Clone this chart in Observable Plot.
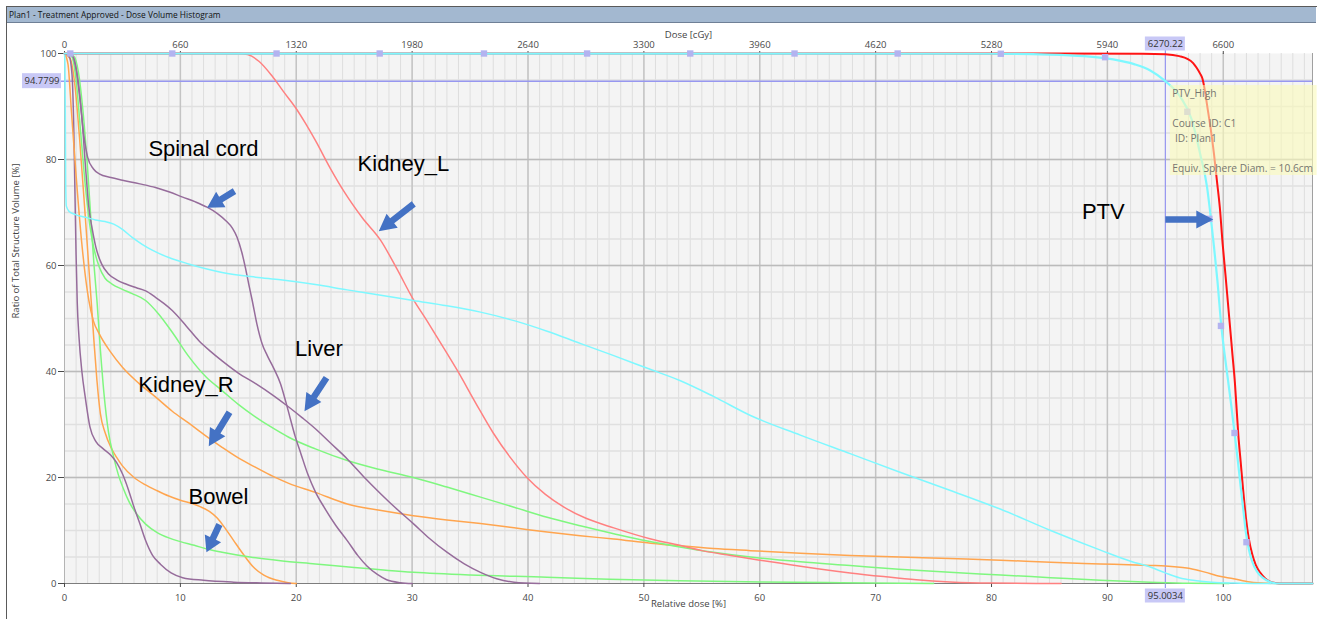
<!DOCTYPE html>
<html><head><meta charset="utf-8">
<script src="https://cdn.jsdelivr.net/npm/d3@7"></script>
<script src="https://cdn.jsdelivr.net/npm/@observablehq/plot@0.6"></script>
<style>
body{margin:0;background:#fff;width:1321px;height:619px;overflow:hidden;position:relative;font-family:'Open Sans',sans-serif;}
#frame{position:absolute;left:6px;top:6px;width:1311px;height:613px;border-left:1px solid #5a5a5a;border-top:1px solid #5a5a5a;box-sizing:border-box;}
#titlebar{position:absolute;left:7px;top:7px;width:1309px;height:16px;background:#a3b8d0;border-bottom:1px solid #6f8096;font-size:8.4px;line-height:15px;color:#111;padding-left:2px;box-sizing:border-box;white-space:nowrap;}
#chart{position:absolute;left:0;top:22px;}
</style></head><body>
<div id="frame"></div>
<div id="titlebar">Plan1 - Treatment Approved - Dose Volume Histogram</div>
<div id="chart"></div>
<script>
// ---------- data (dose in % of prescription, volume in %) ----------
const DOSE_PER_PCT = 66;            // 6600 cGy = 100 %
const xTicks = [0,10,20,30,40,50,60,70,80,90,100];
const yTicks = [0,20,40,60,80,100];

const purpleLow = [[0,100],[0.4,99.5],[0.65,96],[0.8,86],[0.9,74],[1.0,62],[1.1,53],[1.25,46.5],[1.5,40],[1.8,35],[2.2,29.5],[2.7,26.8],[3.3,25.5],[4.0,24.2],[4.5,22.8],[5.0,20.7],[5.5,17.8],[6.0,14.4],[6.5,11.3],[7.0,8.1],[7.6,5.3],[8.3,3.6],[9.2,2.0],[10.2,1.1],[12,0.6],[14.6,0.25],[17,0.1],[19.5,0]];
const spinalCord = [[0,100],[0.6,99.8],[1.0,97],[1.3,92],[1.67,84.5],[2.0,80.4],[2.5,78.2],[3.0,77.3],[4.0,76.6],[5.0,76.1],[6.5,75.4],[7.85,74.7],[9.0,73.9],[10.2,72.9],[11.3,72],[12.3,71],[13.2,69.8],[13.9,68.5],[14.5,67],[14.9,65.3],[15.3,62.5],[15.6,59.7],[15.9,56.5],[16.2,53.4],[16.6,49],[17.06,45.2],[17.5,43],[18.06,40.6],[18.64,37.7],[19.07,34.5],[19.5,31],[19.9,27.8],[20.4,24.5],[21.0,20.6],[21.65,17.3],[22.4,14.4],[23.4,11],[24.4,8.1],[25.3,5.3],[26.1,3.3],[27.0,1.7],[27.8,0.7],[29,0.15],[30,0]];
const liver = [[0,100],[0.7,99.5],[1.1,96],[1.5,88],[1.8,79],[2.1,71],[2.4,66.8],[2.7,63.5],[3.2,60.3],[3.8,58.4],[4.5,57.3],[5.3,56.5],[6.2,55.8],[7.0,55.2],[7.85,54],[8.6,52.8],[9.3,51.5],[10.5,48.6],[11.6,45.8],[12.6,43.8],[13.6,42],[15,39.7],[16.5,37.7],[18,35.5],[19.35,33.3],[20.5,31.3],[21.65,29.2],[23,26.4],[24.4,23.5],[25.8,20.2],[27.3,16.9],[28.7,14],[30.1,11.3],[31.5,8.5],[33,5.9],[34.5,3.7],[35.9,2.1],[37.3,0.9],[38.8,0.25],[41,0]];
const greenA = [[0,100],[0.6,99.5],[1.0,95],[1.4,85],[1.8,75],[2.1,69],[2.4,64.7],[3.0,59.7],[3.5,57.6],[4.1,56.5],[5.0,55.5],[5.84,54.7],[7.0,53.4],[8.1,50.9],[9.3,47.4],[10.7,42.9],[12.2,39],[13.6,36.4],[15,33.8],[16.5,31.4],[18,29.3],[19.35,27.6],[21.65,25.4],[24.4,23.2],[27,21.6],[30.1,20],[33,18.2],[35.9,16.3],[38.8,14.4],[41.65,12.5],[44.5,10.9],[47.4,9.4],[50.3,8],[53.1,6.9],[56,5.9],[59.2,5],[63.5,4.1],[67.8,3.4],[72,2.7],[76.4,2.1],[80.8,1.6],[85.1,1.1],[89.4,0.6],[93.7,0.25],[97,0.05],[100.5,0]];
const bowel = [[0,100],[0.8,99.5],[1.2,96.5],[1.6,89],[2.0,78],[2.3,68],[2.55,60],[2.8,53.4],[3.1,44],[3.4,36],[3.8,28.5],[4.25,23.8],[4.65,20.5],[5.1,17.8],[5.6,15.3],[6.2,13.2],[7.0,11.2],[8.0,9.6],[9.0,8.6],[10,7.9],[11.2,7.2],[12.3,6.5],[13.6,5.9],[16,5.0],[18.64,4.3],[21.65,3.7],[25,3],[30.1,2.1],[35,1.6],[41.65,1.2],[47,0.8],[53.1,0.5],[60,0.3],[67,0.15],[75,0]];
const kidneyR = [[0,100],[0.3,98],[0.6,89],[1.0,77],[1.5,64],[2.1,53.4],[2.5,49.5],[3.0,47.1],[4.0,43.6],[5.0,40.8],[6.4,37.8],[7.85,35.2],[9.3,32.5],[10.7,30.3],[12.1,28],[13.6,25.7],[15,23.7],[16.5,21.9],[18,20.2],[19.35,18.9],[21.65,17.2],[24.4,15],[27.2,13.8],[30.1,12.8],[33,12],[35.9,11.3],[38.8,10.5],[41.65,9.7],[44.5,9],[47.4,8.4],[50.6,7.6],[53.1,7.1],[56,6.6],[59.2,6.2],[63.5,5.7],[67.8,5.3],[72.1,5.0],[76.4,4.7],[80.8,4.4],[85.1,4.0],[89.4,3.7],[93.7,3.4],[95.0,3.3],[96.5,3.0],[97.4,2.7],[98.5,2.1],[99.4,1.5],[100.9,0.9],[102.3,0.3],[103.8,0.05],[105,0],[107.5,0]];
const orangeB = [[0,100],[0.5,99],[0.9,94],[1.3,84],[1.8,69],[2.3,53.4],[2.55,45.5],[2.8,38.3],[3.1,32],[3.5,28.5],[4.0,25.7],[4.5,23.8],[5.0,22.2],[6.0,20],[7.0,18.6],[8.0,17.5],[9.0,16.5],[10,15.7],[11,15.1],[11.7,14.5],[12.5,13.6],[13.2,12.3],[13.9,10.3],[14.6,8.1],[15.4,5.6],[16.3,3.1],[17.2,1.6],[18.35,0.6],[19.3,0.15],[20,0]];
const kidneyL = [[0,100],[15,100],[15.8,99.8],[16.8,98.5],[17.9,95.8],[18.9,92.8],[19.9,89.9],[20.8,86.8],[21.65,83.6],[22.95,78.3],[24.2,73.7],[25.7,69],[27.3,64.7],[28.7,59.3],[30.1,53.6],[31.3,49.5],[32.4,45.6],[33.9,40.2],[35.5,34],[37,28.4],[38.5,23.7],[39.9,20],[41.5,16.8],[43.1,14.4],[45,12.3],[47.4,10.5],[50.6,8.4],[53.1,7.2],[55,6.2],[57.5,5.3],[60,4.4],[62.5,3.6],[65,2.8],[67.8,2.0],[70.7,1.3],[73.5,0.7],[76.4,0.3],[80,0.08],[86,0]];
const cyanStruct = [[0,100],[0.04,98],[0.07,88],[0.1,76],[0.16,71.2],[0.4,70.2],[0.95,69.6],[1.8,69.1],[2.67,68.6],[3.5,68.3],[4.25,67.8],[5.0,66.8],[5.84,65.3],[6.7,64],[7.57,62.9],[9.0,61.5],[10.7,60.3],[12.2,59.4],[13.6,58.7],[16.5,57.8],[18.64,57.3],[21.65,56.4],[24.4,55.4],[27.3,54.4],[30.1,53.4],[33,52.4],[35.9,51.2],[38.8,49.6],[41.65,47.6],[44.5,45.3],[47.4,43],[50.3,40.6],[53.1,38.3],[56,35.3],[59.2,31.7],[63.5,28],[67.8,24.5],[72.1,21],[76.4,17.6],[80.8,14],[85.1,10],[89.4,6.3],[92,4.2],[93.7,3.1],[95,2.0],[96.2,1.1],[97.4,0.6],[99,0.25],[100.9,0.08],[103,0],[107.7,0]];
const ptvRed = [[0,100],[85,100],[93,99.95],[95,99.85],[96.2,99.5],[96.9,99],[97.4,98.2],[97.7,97.3],[98,96.2],[98.2,95.3],[98.45,92.5],[98.6,90.3],[98.9,86],[99.2,81],[99.45,76],[99.7,71],[99.95,64],[100.2,58],[100.4,53],[100.6,48],[100.8,43],[101.0,38],[101.15,33],[101.3,28],[101.5,23],[101.7,18],[101.95,12.5],[102.2,8.5],[102.5,5.5],[102.8,3.5],[103.2,2],[103.6,1],[104,0.4],[104.5,0.1],[105.2,0],[107.7,0]];
const ptvHigh = [[0,100],[80,99.95],[85,99.8],[88,99.5],[90.5,98.9],[92.3,98],[93.7,96.8],[95.0034,94.7799],[96.3,91.8],[97.3,87.4],[98,81.1],[98.6,74.8],[98.9,69.5],[99.2,63.5],[99.5,57],[99.83,48.6],[100.1,43.5],[100.4,38.5],[100.7,33.4],[100.97,28.4],[101.25,23.3],[101.5,18.3],[101.75,13.5],[101.96,9.5],[102.2,6.5],[102.5,4.1],[102.9,2.3],[103.4,1.1],[104,0.35],[104.5,0.05],[105.2,0],[107.7,0]];
const ptvHighMarkers = [[0.5,100],[9.3,100],[18.3,100],[27.2,100],[36.2,100],[45.1,100],[54.0,100],[63.0,100],[71.9,100],[80.8,99.95],[89.8,99.3],[96.9,89],[98.8,68.8],[99.8,48.6],[100.97,28.4],[102.0,7.8]];

// cursor read-out
const crossDose = 95.0034;
const crossVol = 94.7799;

// annotations
const annoLabels = ["Spinal cord","Kidney_L","Liver","Kidney_R","Bowel","PTV"];
const annoX = [11.99, 29.25, 21.96, 10.48, 13.29, 89.65];
const annoY = [81.9, 79.25, 44.34, 37.55, 16.42, 70.1];
const arrowTip  = [[12.31,70.89],[27.12,66.47],[20.71,32.51],[12.45,25.91],[12.25,5.91],[99.14,68.68]];
const arrowTail = [[14.67,74.02],[30.14,71.64],[22.61,38.81],[14.24,32.32],[13.37,11.13],[95.0,68.68]];

const tooltipLines = ["PTV_High","","Course ID: C1","\u00a0ID: Plan1","","Equiv. Sphere Diam. = 10.6cm"];
const tooltipBox = {x1: 95.43, x2: 108.1, y1: 76.98, y2: 93.96, tx: 95.6, ty: 93.75};

// ---------- layout ----------
const W = 1321, H = 597, ML = 64, MR = 9, MT = 31, MB = 36;
const X_MAX = 107.7;
const kx = (W - ML - MR) / X_MAX, ky = (H - MT - MB) / 100;

const PURPLE = "#966c9b", GREEN = "#7ff77f", ORANGE = "#ffa54f", SALMON = "#ff8080", CYAN = "#7ef8ff", RED = "#ff1414";
const series = [
  {pts: orangeB, c: ORANGE}, {pts: bowel, c: GREEN}, {pts: purpleLow, c: PURPLE},
  {pts: kidneyR, c: ORANGE}, {pts: greenA, c: GREEN}, {pts: liver, c: PURPLE},
  {pts: spinalCord, c: PURPLE}, {pts: kidneyL, c: SALMON}, {pts: cyanStruct, c: CYAN},
  {pts: ptvRed, c: RED, w: 2}, {pts: ptvHigh, c: CYAN, w: 2.2}
];

// block arrows as filled polygons (built from tip/tail, in pixel-consistent units)
function arrowPoly(tip, tail, id) {
  const tx = tip[0]*kx, ty = -tip[1]*ky, sx = tail[0]*kx, sy = -tail[1]*ky;
  const L = Math.hypot(tx-sx, ty-sy), ux = (tx-sx)/L, uy = (ty-sy)/L, nx = -uy, ny = ux;
  const hl = Math.min(17, L*0.5), hw = 9, sw = 3.3;
  const bx = tx-ux*hl, by = ty-uy*hl;
  const p = [[sx+nx*sw,sy+ny*sw],[bx+nx*sw,by+ny*sw],[bx+nx*hw,by+ny*hw],[tx,ty],[bx-nx*hw,by-ny*hw],[bx-nx*sw,by-ny*sw],[sx-nx*sw,sy-ny*sw],[sx+nx*sw,sy+ny*sw]];
  return p.map(([x,y]) => ({id, d: x/kx, v: -y/ky}));
}
const arrows = arrowTip.flatMap((t,i) => arrowPoly(t, arrowTail[i], i));

const annos = annoLabels.map((t,i) => ({t, x: annoX[i], y: annoY[i]}));

// cursor label boxes
const boxW = 40, boxH = 14;
const crossBoxes = [
  {x1: -(ML-22)/kx, x2: -3/kx, y1: crossVol - 7.5/ky, y2: crossVol + 7.5/ky, tx: -22.5/kx, ty: crossVol, t: String(crossVol)},
  {x1: crossDose - boxW/2/kx, x2: crossDose + boxW/2/kx, y1: -(12.5+boxH/2)/ky, y2: -(12.5-boxH/2)/ky, tx: crossDose, ty: -12.5/ky, t: String(crossDose)},
  {x1: crossDose - boxW/2/kx, x2: crossDose + boxW/2/kx, y1: 100 + (9.5-boxH/2)/ky, y2: 100 + (9.5+boxH/2)/ky, tx: crossDose, ty: 100 + 9.5/ky, t: (crossDose*DOSE_PER_PCT).toFixed(2)}
];

const chart = Plot.plot({
  width: W, height: H, marginLeft: ML, marginRight: MR, marginTop: MT, marginBottom: MB,
  style: {fontFamily: "'Open Sans', sans-serif", fontSize: "9.5px", background: "transparent", color: "#4a4a4a", overflow: "visible"},
  x: {domain: [0, X_MAX]},
  y: {domain: [0, 100]},
  marks: [
    Plot.frame({fill: "#f4f4f4", stroke: null}),
    Plot.ruleX(d3.range(1, 108), {stroke: "#dedede", strokeWidth: 1}),
    Plot.ruleY(d3.range(5, 100, 5), {stroke: "#e0e0e0", strokeWidth: 1.5}),
    Plot.ruleX(xTicks.slice(1), {stroke: "#c4c4c4", strokeWidth: 1.5}),
    Plot.ruleY(yTicks.slice(1, -1), {stroke: "#bbbbbb", strokeWidth: 1.5}),
    Plot.ruleX([X_MAX], {stroke: "#a0a0a0"}),
    Plot.ruleX([0], {stroke: "#b4b4b4"}),
    Plot.ruleY([0], {stroke: "#7d7d7d", strokeWidth: 1.2}),
    Plot.axisY({anchor: "left", ticks: yTicks, tickSize: 6, tickPadding: 2, label: null}),
    Plot.axisX({anchor: "bottom", ticks: xTicks, tickSize: 4, tickPadding: 7, label: null}),
    Plot.axisX({anchor: "top", ticks: xTicks, tickFormat: d => String(d*DOSE_PER_PCT), tickSize: 3, tickPadding: 3, label: null}),
    Plot.text(["Dose [cGy]"], {text: d => d, frameAnchor: "top", dy: -22, fill: "#444"}),
    Plot.text(["Relative dose [%]"], {text: d => d, frameAnchor: "bottom", dy: 23, fill: "#444"}),
    Plot.text(["Ratio of Total Structure Volume [%]"], {text: d => d, frameAnchor: "left", rotate: -90, dx: -49, fill: "#444"}),
    // cursor cross-hair
    Plot.ruleY([crossVol], {x1: -3/kx, x2: X_MAX, stroke: "#9797f0", strokeWidth: 1.5}),
    Plot.ruleX([crossDose], {y1: -5/ky, y2: 100 + 3/ky, stroke: "#9797f0", strokeWidth: 1.2}),
    // DVH curves
    ...series.map(s => Plot.line(s.pts, {x: d => d[0], y: d => d[1], stroke: s.c, strokeWidth: s.w || 1.5, curve: "monotone-x"})),
    Plot.dot(ptvHighMarkers, {x: d => d[0], y: d => d[1], symbol: "square", r: 3.6, fill: "#b3b3f0", stroke: null}),
    // cursor labels
    Plot.rect(crossBoxes, {x1: "x1", x2: "x2", y1: "y1", y2: "y2", fill: "#c8c8f6"}),
    Plot.text(crossBoxes, {x: "tx", y: "ty", text: "t", fill: "#333", fontSize: 9.5}),
    // tooltip
    Plot.rect([tooltipBox], {x1: "x1", x2: "x2", y1: "y1", y2: "y2", fill: "rgba(250,250,185,0.6)"}),
    Plot.text([tooltipLines.join("\n")], {text: d => d, x: () => tooltipBox.tx, y: () => tooltipBox.ty, textAnchor: "start", lineAnchor: "top", lineHeight: 1.46, fill: "#767670", fontSize: 10.2}),
    // annotations
    Plot.line(arrows, {x: "d", y: "v", z: "id", fill: "#4472c4", stroke: "none", curve: "linear"}),
    Plot.text(annos, {x: "x", y: "y", text: "t", fontFamily: "'Liberation Sans', Arial, sans-serif", fontSize: 22, fill: "#000"})
  ]
});
document.getElementById("chart").append(chart);
</script></body></html>
